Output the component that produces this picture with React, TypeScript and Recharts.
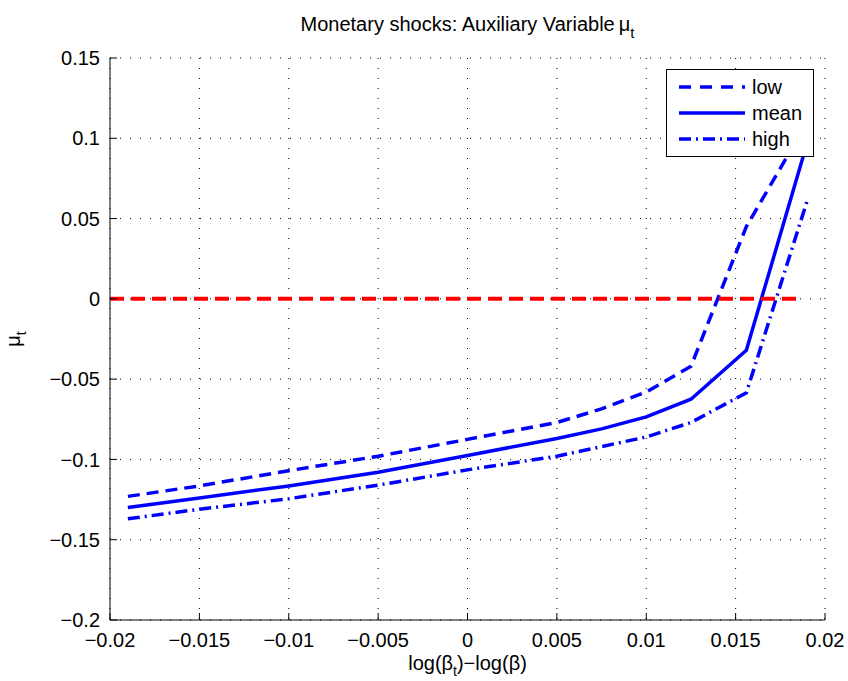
import React from "react";
import { LineChart, Line, XAxis, YAxis, CartesianGrid, Legend } from "recharts";

/* ── data ── */
const xs = [-0.019, -0.015, -0.01, -0.005, 0, 0.005, 0.0075, 0.01, 0.0125, 0.0156, 0.019];
const lowVals = [-0.123, -0.1165, -0.107, -0.098, -0.0875, -0.077, -0.0685, -0.058, -0.042, 0.045, 0.11];
const meanVals = [-0.13, -0.124, -0.1165, -0.108, -0.0975, -0.087, -0.081, -0.0735, -0.0625, -0.032, 0.097];
const highVals = [-0.137, -0.131, -0.1245, -0.116, -0.1065, -0.098, -0.092, -0.086, -0.077, -0.0585, 0.061];
const zeroXs = [-0.02, 0.0185];
const zeroVals = [0, 0];

const xTicks = [-0.02, -0.015, -0.01, -0.005, 0, 0.005, 0.01, 0.015, 0.02];
const yTicks = [-0.2, -0.15, -0.1, -0.05, 0, 0.05, 0.1, 0.15];

const rows = xs.map((x, i) => ({ x, low: lowVals[i], mean: meanVals[i], high: highVals[i] }));
const zeroRows = zeroXs.map((x, i) => ({ x, zero: zeroVals[i] }));

const FONT = "'Liberation Sans', Arial, Helvetica, sans-serif";
const BLUE = "#0000ff";
const fmt = (v: number) => String(v).replace("-", "\u2212");

const legendItems = [
  { name: "low", dash: "12 9" },
  { name: "mean", dash: undefined as string | undefined },
  { name: "high", dash: "12 5 2 5" },
];

function LegendBox() {
  return (
    <div style={{ width: 148, height: 88, border: "1px solid #000", background: "#fff", boxSizing: "border-box" }}>
      <svg width={146} height={86} style={{ display: "block" }}>
        {legendItems.map((it, i) => {
          const y = 17 + i * 26;
          return (
            <g key={it.name}>
              <line x1={12} x2={78} y1={y} y2={y} stroke={BLUE} strokeWidth={3.5} strokeDasharray={it.dash} />
              <text x={85} y={y + 7} fontSize={20} fontFamily={FONT} fill="#000">{it.name}</text>
            </g>
          );
        })}
      </svg>
    </div>
  );
}

function XTitle(props: any) {
  const vb = props.viewBox || {};
  const cx = vb.x + vb.width / 2;
  return (
    <text x={cx} y={vb.y + 50} textAnchor="middle" fontSize={20} fontFamily={FONT} fill="#000">
      log(β<tspan dy={6} fontSize={14}>t</tspan><tspan dy={-6}>)−log(β)</tspan>
    </text>
  );
}

// y-axis title, plus the chart title placed over the plot centre
function YTitle(props: any) {
  const vb = props.viewBox || {};
  const cy = vb.y + vb.height / 2;
  const plotCx = vb.x + vb.width + (848 - 23 - vb.x - vb.width) / 2;
  return (
    <g>
      <text x={0} y={0} transform={`translate(20, ${cy}) rotate(-90)`} textAnchor="middle" fontSize={20} fontFamily={FONT} fill="#000">
        μ<tspan dy={6} fontSize={14}>t</tspan>
      </text>
      <text x={plotCx} y={vb.y - 27} textAnchor="middle" fontSize={20} fontFamily={FONT} fill="#000">
        Monetary shocks: Auxiliary Variable
        <tspan dx={4}>μ</tspan>
        <tspan dy={7} fontSize={15}>t</tspan>
      </text>
    </g>
  );
}

export default function App() {
  return (
    <div style={{ position: "absolute", left: 0, top: 0, width: 848, height: 681, background: "#fff" }}>
      <LineChart width={848} height={681} data={rows} margin={{ top: 58, right: 23, bottom: 0, left: 0 }}>
        <CartesianGrid stroke="#000" strokeDasharray="1 9" strokeWidth={1} horizontalValues={yTicks} verticalValues={xTicks} />
        <XAxis
          dataKey="x" type="number" domain={[-0.02, 0.02]} ticks={xTicks} allowDataOverflow
          height={61} tickSize={-7} tickMargin={20} tickFormatter={fmt}
          tick={{ fill: "#000", fontSize: 20, fontFamily: FONT }}
          stroke="#000" label={<XTitle />}
        />
        <XAxis
          xAxisId="top" orientation="top" type="number" domain={[-0.02, 0.02]} ticks={xTicks} allowDataOverflow
          height={0} tickSize={-7} tickFormatter={() => ""} stroke="#000"
        />
        <YAxis
          type="number" domain={[-0.2, 0.15]} ticks={yTicks} allowDataOverflow
          width={110} tickSize={-7} tickMargin={17} tickFormatter={fmt}
          tick={{ fill: "#000", fontSize: 20, fontFamily: FONT }}
          stroke="#000" label={<YTitle />}
        />
        <YAxis
          yAxisId="right" orientation="right" type="number" domain={[-0.2, 0.15]} ticks={yTicks} allowDataOverflow
          width={0} tickSize={-7} tickFormatter={() => ""} stroke="#000"
        />
        <Legend
          layout="vertical" align="center" verticalAlign="middle"
          wrapperStyle={{ position: "absolute", left: 666, top: 69, width: 148, height: 88 }}
          content={() => <LegendBox />}
        />
        <Line dataKey="low" stroke={BLUE} strokeWidth={3.5} strokeDasharray="12 7" dot={false} isAnimationActive={false} />
        <Line dataKey="mean" stroke={BLUE} strokeWidth={3.5} dot={false} isAnimationActive={false} />
        <Line dataKey="high" stroke={BLUE} strokeWidth={3.5} strokeDasharray="12 5 2 5" dot={false} isAnimationActive={false} />
        <Line data={zeroRows} dataKey="zero" stroke="#ff0000" strokeWidth={4} strokeDasharray="14 7" dot={false} isAnimationActive={false} />
      </LineChart>
    </div>
  );
}
